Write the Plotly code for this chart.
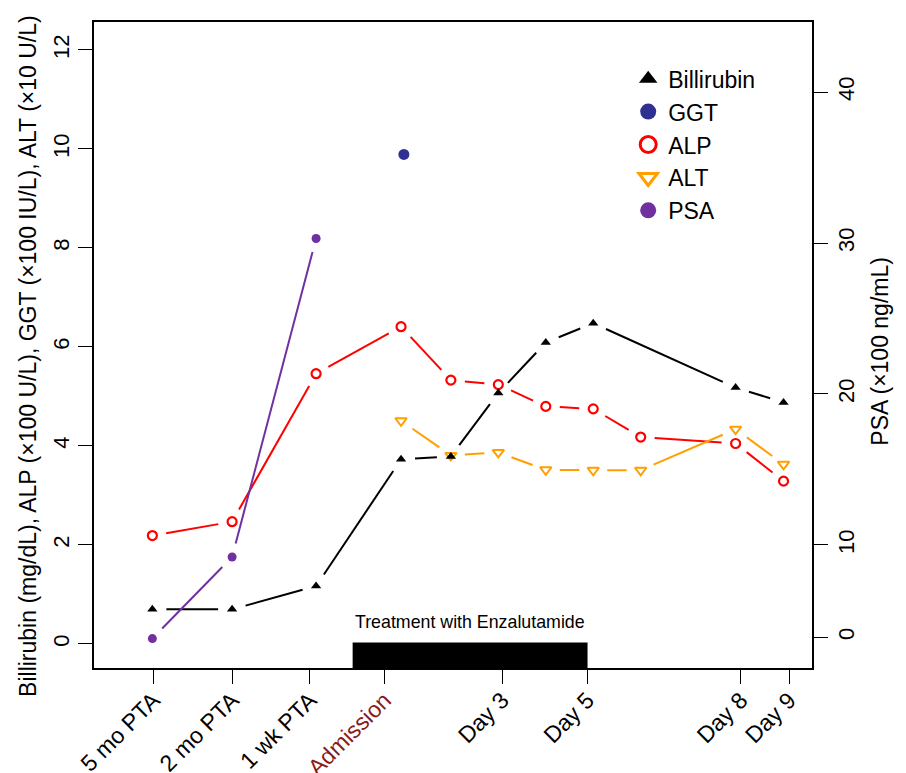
import math
import plotly.graph_objects as go

# ---------------- data ----------------
time_labels = ["5 mo PTA", "2 mo PTA", "1 wk PTA", "Admission", "Day 3", "Day 5", "Day 8", "Day 9"]
label_pos = [-4.27, -2.61, -0.97, 0.60, 3.08, 4.88, 8.11, 9.13]

bili_t = [-4.29, -2.61, -0.84, 0.95, 2.0, 3.0, 4.0, 5.0, 8.0, 9.01]
bili_v = [0.70, 0.70, 1.17, 3.73, 3.79, 5.07, 6.09, 6.48, 5.18, 4.88]

alp_t = [-4.29, -2.61, -0.84, 0.95, 2.0, 3.0, 4.0, 5.0, 6.0, 8.0, 9.01]
alp_v = [2.19, 2.47, 5.46, 6.41, 5.33, 5.24, 4.80, 4.75, 4.18, 4.05, 3.29]

alt_t = [0.95, 2.0, 3.0, 4.0, 5.0, 6.0, 8.0, 9.01]
alt_v = [4.51, 3.81, 3.87, 3.52, 3.51, 3.51, 4.34, 3.63]

ggt_t = [1.01]
ggt_v = [9.89]

psa_t = [-4.29, -2.61, -0.84]
psa_v = [3.8, 9.2, 30.3]

treatment_start, treatment_end = -0.07, 4.88
treatment_label = "Treatment with Enzalutamide"

left_ticks = [0, 2, 4, 6, 8, 10, 12]
right_tick_vals = [3.9, 10, 20, 30, 40]
right_tick_text = ["0", "10", "20", "30", "40"]

left_title = "Billirubin (mg/dL), ALP (×100 U/L), GGT (×100 IU/L), ALT (×10 U/L)"
right_title = "PSA (×100 ng/mL)"

# ---------------- layout constants ----------------
W, H = 898, 765          # page body has an 8px margin
ML, MR, MT, MB = 86, 94, 14, 105
XR = [-5.52, 9.61]
YR = [-0.485, 12.565]
Y2R = [1.85, 44.64]
FONT = "Liberation Sans, Arial, Helvetica, sans-serif"

PW, PH = W - ML - MR, H - MT - MB
sx = PW / (XR[1] - XR[0])
sy = PH / (YR[1] - YR[0])
sy2 = PH / (Y2R[1] - Y2R[0])


def gapped(xs, ys, ysc, gap=14.0):
    """R type='b' style: line segments shortened by a gap (px) at each point."""
    ox, oy = [], []
    for i in range(len(xs) - 1):
        x0, y0, x1, y1 = xs[i], ys[i], xs[i + 1], ys[i + 1]
        L = math.hypot((x1 - x0) * sx, (y1 - y0) * ysc)
        if L <= 2 * gap:
            continue
        f = gap / L
        ox += [x0 + (x1 - x0) * f, x1 - (x1 - x0) * f, None]
        oy += [y0 + (y1 - y0) * f, y1 - (y1 - y0) * f, None]
    return ox, oy


BLACK, RED, ORANGE, NAVY, PURPLE = "#000000", "#FF0000", "#FF9F00", "#2E3192", "#7030A0"

fig = go.Figure()

# lines
for t, v, col, ysc, ya in [
    (bili_t, bili_v, BLACK, sy, "y"),
    (alp_t, alp_v, RED, sy, "y"),
    (alt_t, alt_v, ORANGE, sy, "y"),
    (psa_t, psa_v, PURPLE, sy2, "y2"),
]:
    gx, gy = gapped(t, v, ysc)
    fig.add_trace(go.Scatter(x=gx, y=gy, mode="lines", yaxis=ya,
                             line=dict(color=col, width=2), showlegend=False,
                             connectgaps=False, hoverinfo="skip"))

# markers
fig.add_trace(go.Scatter(x=alt_t, y=alt_v, mode="markers", showlegend=False,
                         marker=dict(symbol="triangle-down-open", size=10, color=ORANGE,
                                     line=dict(width=2, color=ORANGE))))
fig.add_trace(go.Scatter(x=alp_t, y=alp_v, mode="markers", showlegend=False,
                         marker=dict(symbol="circle-open", size=9, color=RED,
                                     line=dict(width=2.2, color=RED))))
fig.add_trace(go.Scatter(x=bili_t, y=bili_v, mode="markers", showlegend=False,
                         marker=dict(symbol="triangle-up", size=9, color=BLACK)))
fig.add_trace(go.Scatter(x=ggt_t, y=ggt_v, mode="markers", showlegend=False,
                         marker=dict(symbol="circle", size=11, color=NAVY)))
fig.add_trace(go.Scatter(x=psa_t, y=psa_v, mode="markers", showlegend=False, yaxis="y2",
                         marker=dict(symbol="circle", size=9, color=PURPLE)))

# legend entries
for name, sym, col, lw in [
    ("Billirubin", "triangle-up", BLACK, 0),
    ("GGT", "circle", NAVY, 0),
    ("ALP", "circle-open", RED, 3),
    ("ALT", "triangle-down-open", ORANGE, 3),
    ("PSA", "circle", PURPLE, 0),
]:
    fig.add_trace(go.Scatter(x=[None], y=[None], mode="markers", name=name,
                             marker=dict(symbol=sym, size=16, color=col,
                                         line=dict(width=lw, color=col))))

# treatment bar and label
fig.add_shape(type="rect", xref="x", yref="y", x0=treatment_start, x1=treatment_end,
              y0=YR[0], y1=0.03, fillcolor="black", line=dict(width=0), layer="above")
fig.add_annotation(x=(treatment_start + treatment_end) / 2, y=0.44, xref="x", yref="y",
                   text=treatment_label, showarrow=False,
                   font=dict(size=17.8, color="black", family=FONT))

# axis titles (placed like the reference, slightly below the plot centre)
fig.add_annotation(xref="paper", yref="paper", x=-0.092, y=0.483, text=left_title,
                   textangle=-90, showarrow=False, xanchor="center", yanchor="middle",
                   font=dict(size=23, color="black", family=FONT))
fig.add_annotation(xref="paper", yref="paper", x=1.095, y=0.49, text=right_title,
                   textangle=-90, showarrow=False, xanchor="center", yanchor="middle",
                   font=dict(size=23, color="black", family=FONT))

ticktext = [('<span style="color:#8B1A1A">%s</span>' % s) if s == "Admission" else s
            for s in time_labels]

fig.update_layout(
    width=W, height=H,
    margin=dict(l=ML, r=MR, t=MT, b=MB, autoexpand=False),
    paper_bgcolor="white", plot_bgcolor="white",
    font=dict(family=FONT, size=22, color="black"),
    showlegend=True,
    legend=dict(x=0.744, y=0.9454, xanchor="left", yanchor="top",
                bgcolor="rgba(0,0,0,0)", font=dict(size=23, family=FONT),
                itemclick=False),
    xaxis=dict(range=XR, tickvals=label_pos, ticktext=ticktext, tickangle=-45,
               ticks="outside", ticklen=14, tickwidth=1.2, tickcolor="black",
               ticklabelstandoff=-6,
               showline=True, linecolor="black", linewidth=1.5, mirror=True,
               showgrid=False, zeroline=False, tickfont=dict(size=23), automargin=False),
    yaxis=dict(range=YR, tickvals=left_ticks, tickangle=-90,
               ticks="outside", ticklen=14, tickwidth=1.2, tickcolor="black",
               showline=True, linecolor="black", linewidth=1.5, mirror=True,
               showgrid=False, zeroline=False, tickfont=dict(size=22), automargin=False),
    yaxis2=dict(range=Y2R, overlaying="y", side="right", tickvals=right_tick_vals,
                ticktext=right_tick_text, tickangle=-90,
                ticks="outside", ticklen=14, tickwidth=1.2, tickcolor="black",
                showline=True, linecolor="black", linewidth=1.5, automargin=False,
                showgrid=False, zeroline=False, tickfont=dict(size=22)),
)

fig.write_html("out.html")
